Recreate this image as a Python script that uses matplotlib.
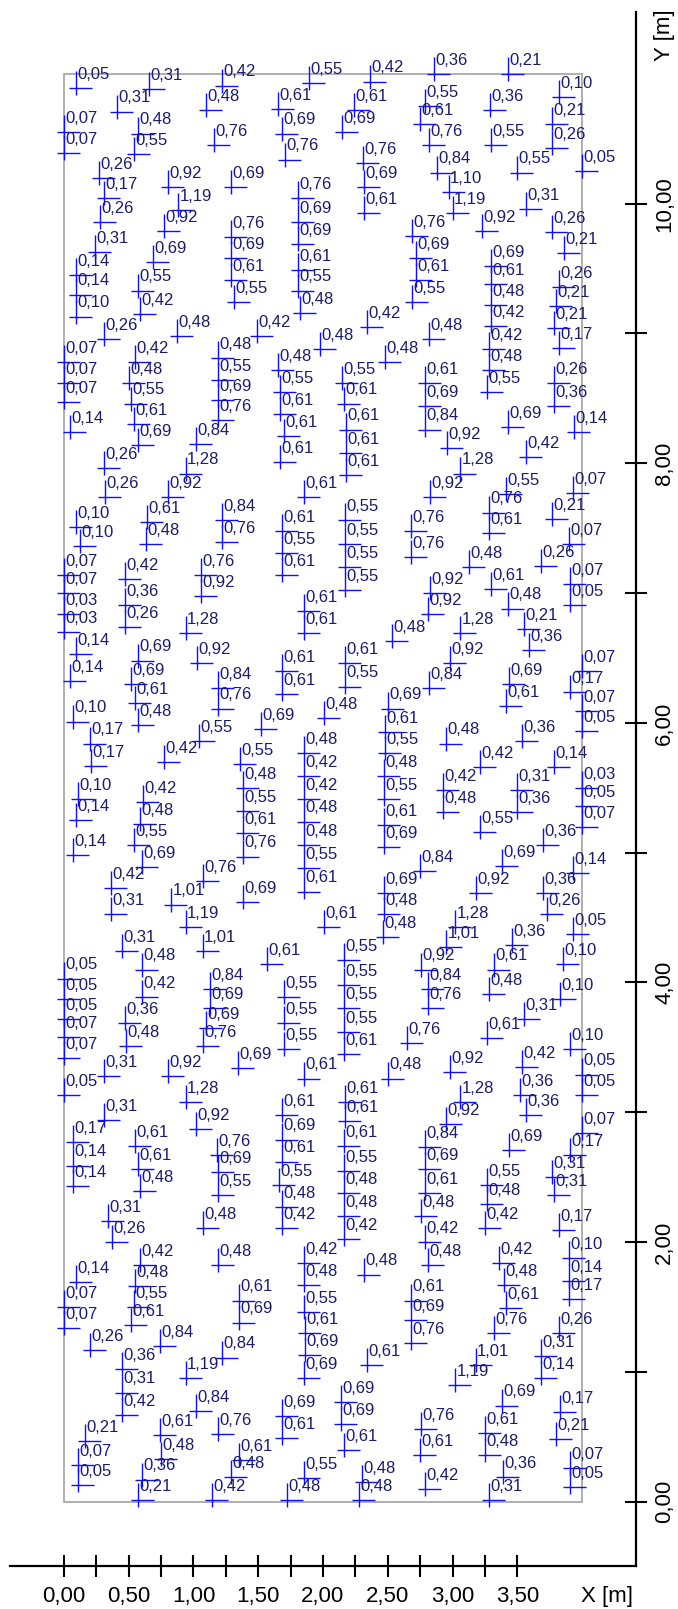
import matplotlib
matplotlib.use('Agg')
import matplotlib.pyplot as plt
from matplotlib.path import Path
from matplotlib.patches import Rectangle

# ---------------- data (metres / measured values) ----------------
X = [0.09,0.66,1.22,1.89,2.36,2.86,3.43,3.82,0.41,1.10,1.65,2.24,2.79,3.29,0.00,0.57,1.68,2.15,2.75,3.77,
     0.00,0.54,1.16,2.82,3.30,3.77,1.71,2.31,2.88,3.50,4.00,0.27,0.80,1.29,2.32,2.97,0.31,1.81,0.88,2.32,
     3.00,3.57,0.28,1.81,0.77,1.29,2.69,3.23,3.77,1.81,0.24,3.86,1.29,2.72,0.69,3.30,1.81,0.09,1.29,2.72,
     3.30,3.82,0.57,1.81,0.09,1.31,2.69,3.30,3.80,0.59,1.82,0.09,3.30,3.78,2.34,0.31,0.87,1.49,2.82,1.98,
     3.28,3.82,0.00,0.55,1.19,1.65,2.48,3.28,0.00,0.50,1.19,2.15,2.79,3.78,1.67,3.27,0.00,1.19,0.52,2.16,
     2.79,3.78,1.67,1.19,0.54,3.43,0.05,2.18,2.79,3.94,1.70,1.02,0.57,2.96,2.18,3.57,1.67,0.31,0.94,3.06,
     2.18,0.32,0.80,1.85,2.83,3.41,3.93,3.28,1.22,2.17,3.77,0.09,0.64,1.68,2.68,3.28,0.12,0.63,1.22,2.17,
     3.90,1.68,2.68,3.68,2.17,3.13,0.00,1.06,1.68,0.47,3.91,3.30,2.17,0.00,1.06,2.83,0.47,3.91,3.43,1.85,
     0.00,2.81,0.47,3.55,0.00,1.85,0.94,3.06,2.53,3.59,0.09,0.57,1.03,2.17,2.98,1.68,4.00,0.05,0.52,3.44,
     2.17,1.19,2.82,3.91,1.68,0.55,3.41,2.50,1.19,4.00,2.01,0.07,0.57,1.52,4.00,2.48,1.04,2.95,0.20,3.54,
     1.85,2.48,0.77,1.36,0.21,3.21,3.78,1.85,2.47,1.38,2.93,3.50,4.00,1.85,2.47,0.11,0.61,4.00,1.38,2.93,
     3.50,0.09,1.85,0.59,2.47,4.00,3.21,1.38,0.54,1.85,3.70,2.47,0.07,1.38,0.60,1.85,3.38,2.75,3.93,1.07,
     0.36,1.85,2.47,3.18,3.70,0.83,1.38,0.36,2.47,3.73,0.94,2.01,3.02,3.93,2.46,3.46,2.95,0.45,1.07,2.16,
     3.85,1.57,0.60,3.32,2.76,0.00,2.16,1.13,2.81,3.28,0.60,1.70,0.00,3.83,1.13,2.16,2.81,0.00,3.55,0.47,
     1.70,1.10,2.16,0.00,3.27,0.48,1.07,2.65,1.70,3.91,2.16,0.00,3.54,1.34,0.31,0.80,1.85,2.50,2.98,4.00,
     0.00,3.52,4.00,0.94,2.17,3.06,1.68,3.57,0.31,2.17,1.02,2.95,4.00,1.68,0.07,0.55,2.16,2.79,3.44,1.18,
     3.91,1.68,0.07,0.57,2.79,2.16,1.19,3.77,1.66,3.27,0.07,0.59,2.16,2.79,3.78,1.19,1.68,3.27,2.16,2.76,
     0.34,1.07,1.68,3.25,3.82,0.37,2.16,2.79,0.59,1.19,1.85,3.36,2.81,3.90,2.32,0.09,0.55,1.85,3.40,3.90,
     1.35,2.68,3.90,0.00,0.54,3.41,1.85,1.35,2.68,0.00,0.52,1.86,3.32,3.82,0.20,0.74,2.68,1.22,1.86,3.68,
     2.34,3.18,0.45,1.85,3.68,0.94,3.02,0.45,2.14,3.38,1.02,3.83,0.45,1.68,2.14,2.76,3.25,1.19,0.74,1.68,
     3.80,0.16,2.16,2.75,3.25,1.35,0.75,0.11,3.91,1.85,2.30,3.39,1.29,0.60,2.79,0.11,3.91,0.57,1.14,1.72,
     2.28,3.28]
Y = [10.89,10.88,10.91,10.93,10.94,11.00,11.00,10.82,10.71,10.72,10.73,10.72,10.75,10.72,10.55,10.54,10.54,10.55,10.61,10.61,
     10.39,10.38,10.45,10.45,10.45,10.43,10.34,10.31,10.24,10.24,10.25,10.20,10.13,10.13,10.13,10.09,10.04,10.04,9.95,9.93,
     9.93,9.96,9.86,9.86,9.79,9.74,9.75,9.79,9.78,9.69,9.63,9.62,9.58,9.58,9.55,9.52,9.49,9.45,9.41,9.41,
     9.38,9.36,9.33,9.33,9.30,9.24,9.24,9.22,9.21,9.15,9.16,9.13,9.06,9.04,9.05,8.96,8.98,8.98,8.96,8.88,
     8.88,8.89,8.78,8.78,8.81,8.72,8.78,8.72,8.62,8.62,8.64,8.62,8.62,8.62,8.55,8.55,8.47,8.49,8.46,8.46,
     8.44,8.44,8.38,8.33,8.30,8.28,8.24,8.26,8.26,8.24,8.21,8.15,8.14,8.12,8.08,8.05,8.01,7.96,7.92,7.92,
     7.91,7.74,7.74,7.74,7.74,7.76,7.77,7.62,7.56,7.56,7.57,7.51,7.55,7.48,7.48,7.46,7.36,7.38,7.39,7.38,
     7.38,7.31,7.28,7.21,7.20,7.20,7.14,7.14,7.14,7.11,7.07,7.03,7.02,7.00,6.98,7.00,6.91,6.91,6.88,6.86,
     6.84,6.84,6.74,6.72,6.70,6.69,6.69,6.69,6.63,6.56,6.53,6.48,6.46,6.46,6.46,6.40,6.40,6.32,6.30,6.30,
     6.28,6.27,6.27,6.24,6.22,6.15,6.13,6.11,6.11,6.09,6.04,6.01,5.98,5.95,5.94,5.93,5.86,5.84,5.84,5.86,
     5.77,5.77,5.70,5.68,5.67,5.66,5.66,5.59,5.59,5.50,5.48,5.48,5.50,5.41,5.41,5.41,5.39,5.36,5.32,5.31,
     5.31,5.25,5.24,5.22,5.21,5.20,5.16,5.15,5.06,5.06,5.06,5.04,4.98,4.97,4.89,4.88,4.90,4.86,4.84,4.78,
     4.73,4.70,4.69,4.69,4.69,4.60,4.62,4.53,4.53,4.53,4.43,4.43,4.43,4.37,4.35,4.29,4.27,4.24,4.24,4.17,
     4.14,4.14,4.10,4.10,4.10,4.03,3.98,3.95,3.95,3.91,3.89,3.89,3.87,3.87,3.80,3.80,3.80,3.72,3.72,3.69,
     3.69,3.65,3.62,3.58,3.57,3.51,3.51,3.53,3.49,3.49,3.45,3.42,3.35,3.34,3.28,3.28,3.26,3.26,3.31,3.29,
     3.13,3.13,3.13,3.08,3.08,3.08,2.98,2.98,2.94,2.93,2.87,2.91,2.84,2.79,2.77,2.74,2.74,2.73,2.71,2.67,
     2.67,2.62,2.59,2.56,2.56,2.55,2.54,2.50,2.44,2.44,2.43,2.39,2.38,2.38,2.36,2.36,2.27,2.29,2.20,2.20,
     2.16,2.11,2.11,2.11,2.09,2.00,2.02,2.00,1.82,1.82,1.84,1.84,1.82,1.88,1.75,1.69,1.66,1.67,1.67,1.70,
     1.55,1.55,1.56,1.50,1.50,1.49,1.46,1.38,1.40,1.34,1.36,1.30,1.30,1.30,1.17,1.20,1.22,1.11,1.13,1.12,
     1.05,1.05,1.02,0.95,0.95,0.95,0.90,0.84,0.77,0.74,0.70,0.69,0.67,0.66,0.60,0.56,0.53,0.52,0.51,0.49,
     0.48,0.47,0.40,0.36,0.36,0.32,0.33,0.28,0.26,0.18,0.15,0.19,0.19,0.17,0.10,0.13,0.11,0.01,0.01,0.01,
     0.01,0.01]
V = [0.05,0.31,0.42,0.55,0.42,0.36,0.21,0.10,0.31,0.48,0.61,0.61,0.55,0.36,0.07,0.48,0.69,0.69,0.61,0.21,
     0.07,0.55,0.76,0.76,0.55,0.26,0.76,0.76,0.84,0.55,0.05,0.26,0.92,0.69,0.69,1.10,0.17,0.76,1.19,0.61,
     1.19,0.31,0.26,0.69,0.92,0.76,0.76,0.92,0.26,0.69,0.31,0.21,0.69,0.69,0.69,0.69,0.61,0.14,0.61,0.61,
     0.61,0.26,0.55,0.55,0.14,0.55,0.55,0.48,0.21,0.42,0.48,0.10,0.42,0.21,0.42,0.26,0.48,0.42,0.48,0.48,
     0.42,0.17,0.07,0.42,0.48,0.48,0.48,0.48,0.07,0.48,0.55,0.55,0.61,0.26,0.55,0.55,0.07,0.69,0.55,0.61,
     0.69,0.36,0.61,0.76,0.61,0.69,0.14,0.61,0.84,0.14,0.61,0.84,0.69,0.92,0.61,0.42,0.61,0.26,1.28,1.28,
     0.61,0.26,0.92,0.61,0.92,0.55,0.07,0.76,0.84,0.55,0.21,0.10,0.61,0.61,0.76,0.61,0.10,0.48,0.76,0.55,
     0.07,0.55,0.76,0.26,0.55,0.48,0.07,0.76,0.61,0.42,0.07,0.61,0.55,0.07,0.92,0.92,0.36,0.05,0.48,0.61,
     0.03,0.92,0.26,0.21,0.03,0.61,1.28,1.28,0.48,0.36,0.14,0.69,0.92,0.61,0.92,0.61,0.07,0.14,0.69,0.69,
     0.55,0.84,0.84,0.17,0.61,0.61,0.61,0.69,0.76,0.07,0.48,0.10,0.48,0.69,0.05,0.61,0.55,0.48,0.17,0.36,
     0.48,0.55,0.42,0.55,0.17,0.42,0.14,0.42,0.48,0.48,0.42,0.31,0.03,0.42,0.55,0.10,0.42,0.05,0.55,0.48,
     0.36,0.14,0.48,0.48,0.61,0.07,0.55,0.61,0.55,0.48,0.36,0.69,0.14,0.76,0.69,0.55,0.69,0.84,0.14,0.76,
     0.42,0.61,0.69,0.92,0.36,1.01,0.69,0.31,0.48,0.26,1.19,0.61,1.28,0.05,0.48,0.36,1.01,0.31,1.01,0.55,
     0.10,0.61,0.48,0.61,0.92,0.05,0.55,0.84,0.84,0.48,0.42,0.55,0.05,0.10,0.69,0.55,0.76,0.05,0.31,0.36,
     0.55,0.69,0.55,0.07,0.61,0.48,0.76,0.76,0.55,0.10,0.61,0.07,0.42,0.69,0.31,0.92,0.61,0.48,0.92,0.05,
     0.05,0.36,0.05,1.28,0.61,1.28,0.61,0.36,0.31,0.61,0.92,0.92,0.07,0.69,0.17,0.61,0.61,0.84,0.69,0.76,
     0.17,0.61,0.14,0.61,0.69,0.55,0.69,0.31,0.55,0.55,0.14,0.48,0.48,0.61,0.31,0.55,0.48,0.48,0.48,0.48,
     0.31,0.48,0.42,0.42,0.17,0.26,0.42,0.42,0.42,0.48,0.42,0.42,0.48,0.10,0.48,0.14,0.48,0.48,0.48,0.14,
     0.61,0.61,0.17,0.07,0.55,0.61,0.55,0.69,0.69,0.07,0.61,0.61,0.76,0.26,0.26,0.84,0.76,0.84,0.69,0.31,
     0.61,1.01,0.36,0.69,0.14,1.19,1.19,0.31,0.69,0.69,0.84,0.17,0.42,0.69,0.69,0.76,0.61,0.76,0.61,0.61,
     0.21,0.21,0.61,0.61,0.48,0.61,0.48,0.07,0.07,0.55,0.48,0.36,0.48,0.36,0.42,0.05,0.05,0.21,0.42,0.48,
     0.48,0.31]

X_TICKS = [0.0, 0.25, 0.5, 0.75, 1.0, 1.25, 1.5, 1.75, 2.0, 2.25, 2.5, 2.75, 3.0, 3.25, 3.5]
X_LABEL_POS = [0.0, 0.5, 1.0, 1.5, 2.0, 2.5, 3.0, 3.5]
X_LABELS = ['0,00', '0,50', '1,00', '1,50', '2,00', '2,50', '3,00', '3,50']
Y_TICKS = [0, 1, 2, 3, 4, 5, 6, 7, 8, 9, 10]
Y_LABEL_POS = [0, 2, 4, 6, 8, 10]
Y_LABELS = ['0,00', '2,00', '4,00', '6,00', '8,00', '10,00']
FIELD_W, FIELD_H = 4.0, 11.0

# ---------------- figure ----------------
W, H = 678, 1609
fig = plt.figure(figsize=(W / 100, H / 100), dpi=100)
ax = fig.add_axes([9.5 / W, 1 - 1566 / H, 626 / W, (1566 - 11.7) / H])
ax.set_xlim(-0.4208, 4.4131)
ax.set_ylim(-0.4954, 11.479)

for s in ('top', 'left'):
    ax.spines[s].set_visible(False)
for s in ('bottom', 'right'):
    ax.spines[s].set_linewidth(1.6)
    ax.spines[s].set_color('black')

ax.set_xticks(X_TICKS)
ax.set_xticklabels([])
ax.yaxis.tick_right()
ax.set_yticks(Y_TICKS)
ax.set_yticklabels([])
ax.tick_params(axis='both', direction='inout', length=15.8, width=1.5, color='black')
ax.tick_params(axis='y', left=False, right=True)

# field boundary
ax.add_patch(Rectangle((0, 0), FIELD_W, FIELD_H, fill=False, ec='#a9a9a9', lw=1.3, zorder=1))

# asymmetric cross marker (pixel geometry)
cross = Path([(-7, 0), (16, 0), (0, -7), (0, 17)],
             [Path.MOVETO, Path.LINETO, Path.MOVETO, Path.LINETO])
ax.plot(X, Y, linestyle='none', marker=cross, markersize=34 * 0.72,
        markerfacecolor='none', markeredgecolor='#1010f2', markeredgewidth=1.0, zorder=2)

lab_font = dict(family=['Liberation Sans', 'DejaVu Sans'], size=12)
for x, y, v in zip(X, Y, V):
    ax.annotate(f"{v:.2f}".replace('.', ','), (x, y), xytext=(1.0, 6.6),
                textcoords='offset points', ha='left', va='baseline',
                color='#1c1c6a', zorder=3, **lab_font)

tick_font = dict(family=['Liberation Sans', 'DejaVu Sans'], size=16, color='black')
for p, t in zip(X_LABEL_POS, X_LABELS):
    ax.text(p, -0.770, t, ha='center', va='baseline', clip_on=False, **tick_font)
ax.text(4.193, -0.770, 'X [m]', ha='center', va='baseline', clip_on=False, **tick_font)
for p, t in zip(Y_LABEL_POS, Y_LABELS):
    ax.text(4.680, p, t, rotation=90, rotation_mode='anchor', ha='center', va='baseline',
            clip_on=False, **tick_font)
ax.text(4.680, 11.30, 'Y [m]', rotation=90, rotation_mode='anchor', ha='center', va='baseline',
        clip_on=False, **tick_font)

fig.savefig('out.png', dpi=100)
